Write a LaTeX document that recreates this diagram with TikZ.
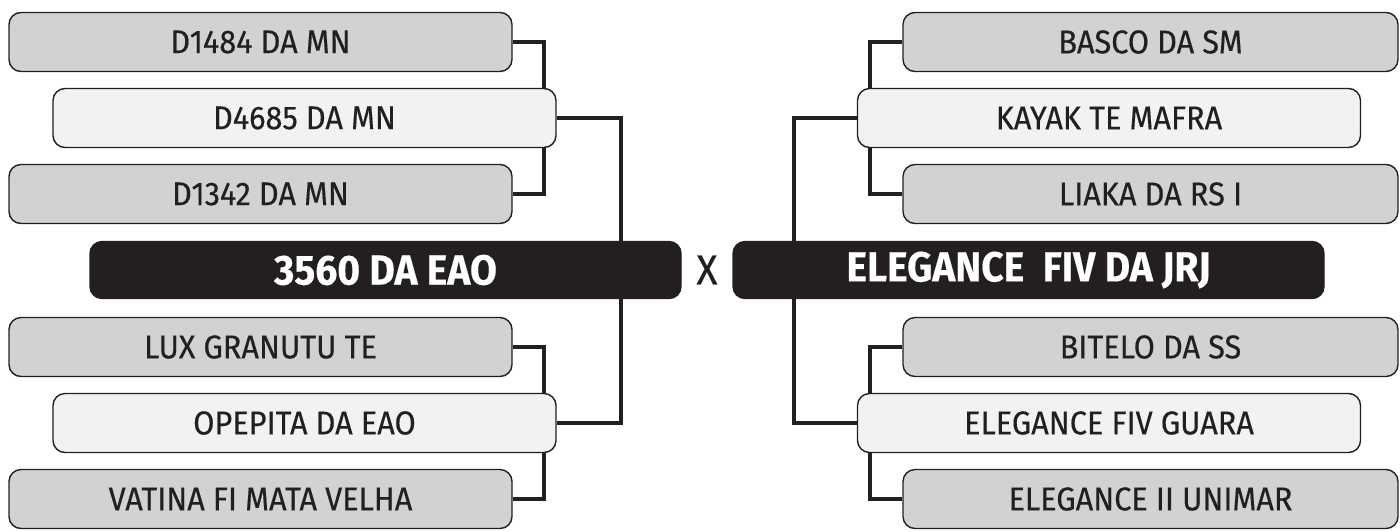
\documentclass[tikz,border=0pt]{standalone}
\usepackage{fontspec}
\setmainfont{Fira Sans}[FakeStretch=0.93, FakeBold=0.35]
\usepackage{tikz}
\usetikzlibrary{backgrounds}
\definecolor{ink}{HTML}{231F20}
\definecolor{grandfill}{HTML}{D1D2D4}
\definecolor{parentfill}{HTML}{F1F2F3}

\begin{document}
\begin{tikzpicture}[x=0.5pt, y=-0.5pt, font=\fontsize{16.5}{19}\selectfont]
  \tikzstyle{grand}=[draw=ink, line width=0.7pt, rounded corners=6pt, fill=grandfill, text=ink, minimum width=251.5pt, minimum height=29.5pt, inner sep=0pt]
  \tikzstyle{parent}=[grand, fill=parentfill]
  \tikzstyle{bull}=[draw=ink, line width=0.7pt, rounded corners=6pt, fill=ink, text=white, minimum width=295.5pt, minimum height=28.5pt, inner sep=0pt, font=\fontsize{21}{24}\bfseries]
  \tikzstyle{link}=[draw=ink, line width=2pt]
  \useasboundingbox (0,0) rectangle (1400,531);
  \node[grand] (lss) at (260.5,42) {D1484 DA MN};
  \node[parent] (lsire) at (304.5,118) {D4685 DA MN};
  \node[grand] (lsd) at (260.5,194) {D1342 DA MN};
  \node[bull] (lbull) at (385.5,270) {3560 DA EAO};
  \node[grand] (lds) at (260.5,347) {LUX GRANUTU TE};
  \node[parent] (ldam) at (304.5,423) {OPEPITA DA EAO};
  \node[grand] (ldd) at (260.5,499) {VATINA FI MATA VELHA};
  \node[text=ink, font=\fontsize{21}{24}\selectfont] (vs) at (707,270) {X};
  \node[bull] (rbull) at (1028.5,270) {ELEGANCE\ \ FIV DA JRJ};
  \node[grand, minimum width=247.5pt] (rss) at (1150.5,42) {BASCO DA SM};
  \node[parent] (rsire) at (1109,118) {KAYAK TE MAFRA};
  \node[grand, minimum width=247.5pt] (rsd) at (1150.5,194) {LIAKA DA RS I};
  \node[grand, minimum width=247.5pt] (rds) at (1150.5,347) {BITELO DA SS};
  \node[parent] (rdam) at (1109,423) {ELEGANCE FIV GUARA};
  \node[grand, minimum width=247.5pt] (rdd) at (1150.5,499) {ELEGANCE II UNIMAR};
  \begin{scope}[on background layer]
    \draw[link] (lss.east) -- ++(31,0) |- (lsd.east);
    \draw[link] (lsire.east) -- ++(64,0) |- (ldam.east);
    \draw[link] (lds.east) -- ++(31,0) |- (ldd.east);
    \draw[link] (rss.west) -- ++(-32,0) |- (rsd.west);
    \draw[link] (rsire.west) -- ++(-63,0) |- (rdam.west);
    \draw[link] (rds.west) -- ++(-32,0) |- (rdd.west);
  \end{scope}
\end{tikzpicture}
\end{document}
